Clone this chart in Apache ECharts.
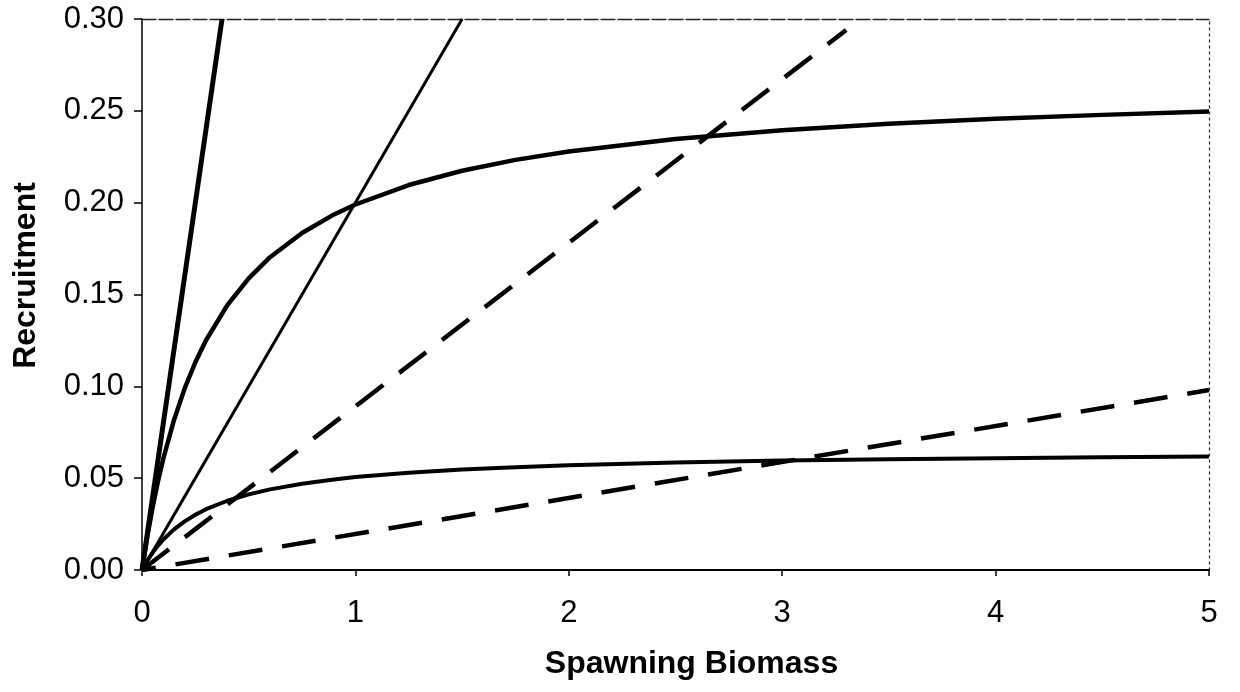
<!DOCTYPE html>
<html><head><meta charset="utf-8">
<script src="https://cdn.jsdelivr.net/npm/echarts@6/dist/echarts.min.js"></script>
<style>html,body{margin:0;padding:0;background:#fff}#c{width:1240px;height:692px}</style>
</head><body><div id="c"></div>
<script>
// Spawning biomass sample points for the two curved recruitment relations
const biomassX   = [0, 0.01, 0.025, 0.05, 0.075, 0.1, 0.15, 0.2, 0.25, 0.3, 0.4, 0.5, 0.6, 0.75, 0.9, 1, 1.25, 1.5, 1.75, 2, 2.5, 3, 3.5, 4, 4.5, 5];
const upperCurve = [0, 0.0076, 0.0183, 0.0343, 0.0483, 0.0607, 0.0817, 0.0989, 0.1131, 0.1251, 0.1442, 0.1588, 0.1703, 0.1835, 0.1936, 0.1990, 0.2096, 0.2174, 0.2233, 0.2279, 0.2347, 0.2394, 0.2430, 0.2457, 0.2478, 0.2496];
const lowerCurve = [0, 0.0022, 0.0051, 0.0095, 0.0133, 0.0166, 0.0221, 0.0265, 0.0301, 0.0331, 0.0377, 0.0412, 0.0439, 0.0470, 0.0493, 0.0506, 0.0530, 0.0547, 0.0560, 0.0570, 0.0585, 0.0596, 0.0603, 0.0609, 0.0614, 0.0618];
// Straight replacement lines (solid)
const steepLineX = [0, 0.375];
const steepLineY = [0, 0.30];
const thinLineX  = [0, 1.5];
const thinLineY  = [0, 0.30];
// Straight replacement lines (dashed)
const upperDashX = [0, 3.3];
const upperDashY = [0, 0.294];
const lowerDashX = [0, 5];
const lowerDashY = [0, 0.098];
// Axis ticks
const xTicks = [0, 1, 2, 3, 4, 5];
const yTicks = [0, 0.05, 0.10, 0.15, 0.20, 0.25, 0.30];

const pairs = (xs, ys) => xs.map((x, i) => [x, ys[i]]);
const FONT = "'Liberation Sans', Arial, sans-serif";
const BLACK = '#000';

const chart = echarts.init(document.getElementById('c'), null, {renderer: 'canvas'});
chart.setOption({
  backgroundColor: '#fff',
  animation: false,
  grid: {left: 142, right: 31, top: 19, bottom: 122, containLabel: false},
  xAxis: [{
    type: 'value', min: xTicks[0], max: xTicks[xTicks.length - 1], interval: 1,
    name: 'Spawning Biomass', nameLocation: 'middle', nameGap: 78,
    nameTextStyle: {fontFamily: FONT, fontSize: 32, fontWeight: 'bold', color: BLACK, padding: [0, 0, 0, 32]},
    axisLine: {show: true, onZero: false, lineStyle: {color: BLACK, width: 2}},
    axisTick: {show: true, length: 6, lineStyle: {color: BLACK, width: 1.5}},
    axisLabel: {fontFamily: FONT, fontSize: 31, color: BLACK, margin: 28},
    splitLine: {show: false}
  }, {
    type: 'value', position: 'top', min: 0, max: 5,
    axisLine: {show: true, onZero: false, lineStyle: {color: '#222', width: 1.3, type: [14, 3]}},
    axisTick: {show: false}, axisLabel: {show: false}, splitLine: {show: false}
  }],
  yAxis: [{
    type: 'value', min: yTicks[0], max: yTicks[yTicks.length - 1], interval: 0.05,
    name: 'Recruitment', nameLocation: 'middle', nameGap: 100, nameRotate: 90,
    nameTextStyle: {fontFamily: FONT, fontSize: 32, fontWeight: 'bold', color: BLACK, padding: [0, 0, 0, 38]},
    axisLine: {show: true, onZero: false, lineStyle: {color: BLACK, width: 1.5}},
    axisTick: {show: true, length: 8, lineStyle: {color: BLACK, width: 1.5}},
    axisLabel: {fontFamily: FONT, fontSize: 31, color: BLACK, margin: 18, formatter: v => v.toFixed(2)},
    splitLine: {show: false}
  }, {
    type: 'value', position: 'right', min: 0, max: 0.3,
    axisLine: {show: true, onZero: false, lineStyle: {color: '#333', width: 1.3, type: [2, 4]}},
    axisTick: {show: false}, axisLabel: {show: false}, splitLine: {show: false}
  }],
  series: [
    {type: 'line', data: pairs(biomassX, upperCurve), smooth: false, symbol: 'none',
     lineStyle: {color: BLACK, width: 4.5, join: 'round'}},
    {type: 'line', data: pairs(biomassX, lowerCurve), smooth: false, symbol: 'none',
     lineStyle: {color: BLACK, width: 4, join: 'round'}},
    {type: 'line', data: pairs(steepLineX, steepLineY), symbol: 'none',
     lineStyle: {color: BLACK, width: 5}},
    {type: 'line', data: pairs(thinLineX, thinLineY), symbol: 'none',
     lineStyle: {color: BLACK, width: 3}},
    {type: 'line', data: pairs(upperDashX, upperDashY), symbol: 'none',
     lineStyle: {color: BLACK, width: 4.5, type: [34, 20]}},
    {type: 'line', data: pairs(lowerDashX, lowerDashY), symbol: 'none',
     lineStyle: {color: BLACK, width: 4.5, type: [34, 20], dashOffset: 20}}
  ]
});
</script></body></html>
